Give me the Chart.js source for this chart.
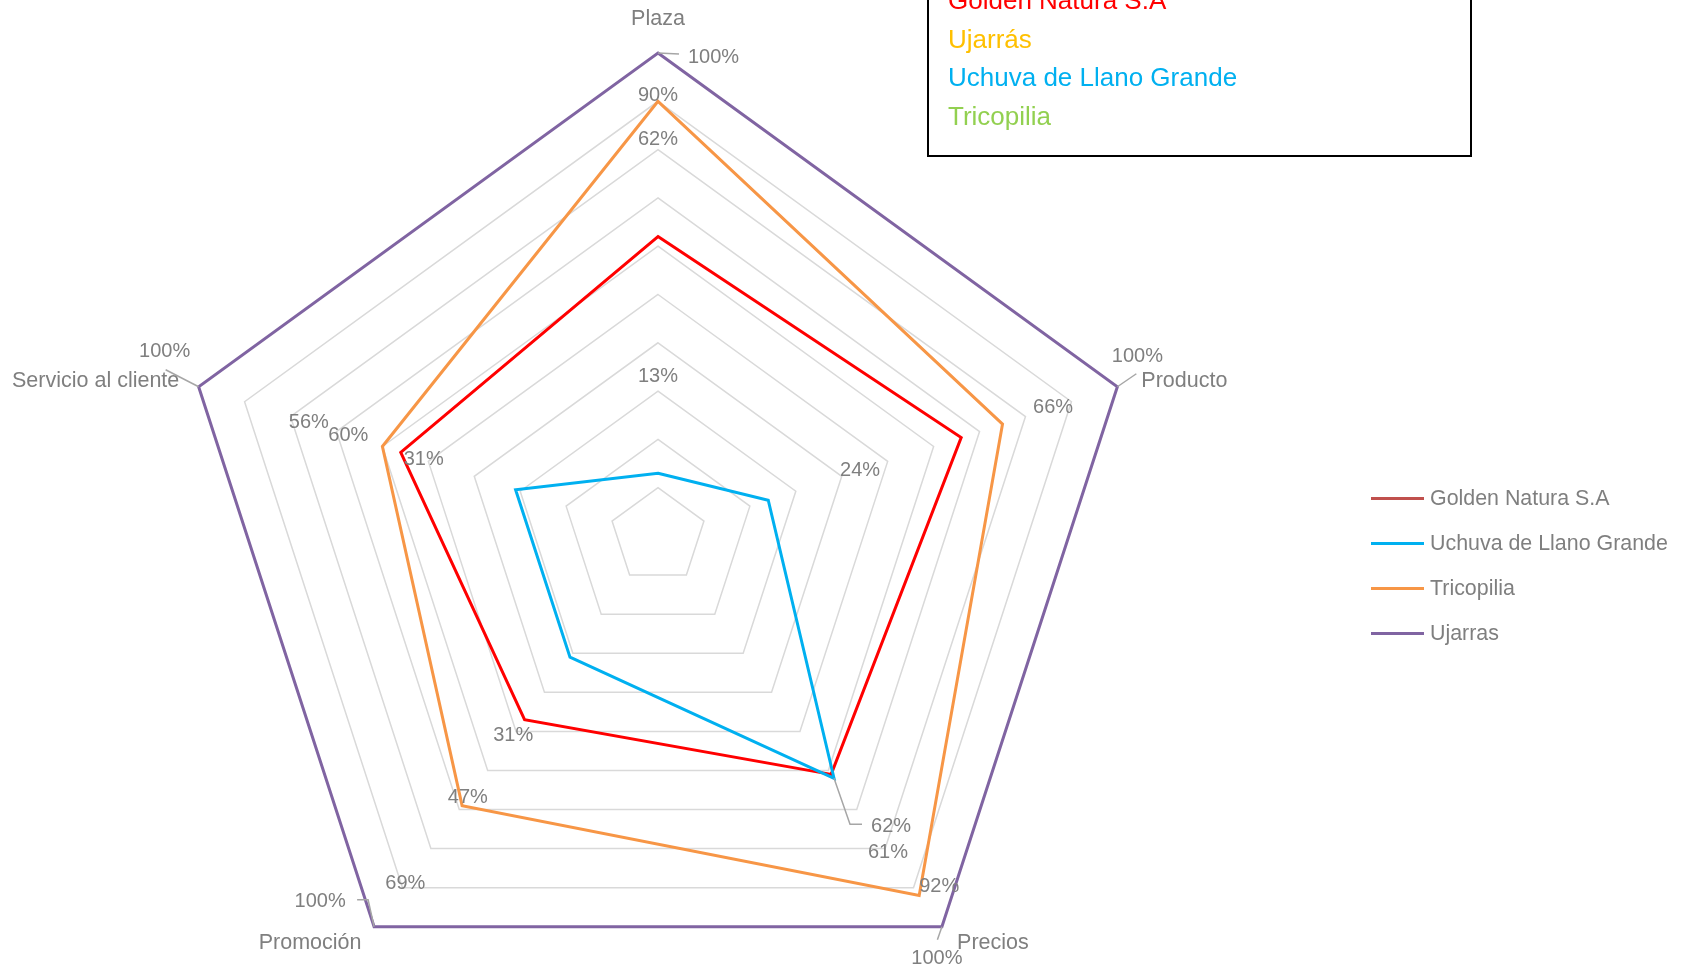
<!DOCTYPE html>
<html lang="es">
<head>
<meta charset="utf-8">
<title>Radar - comparación de empresas</title>
<script src="https://cdn.jsdelivr.net/npm/chart.js@4.4.1/dist/chart.umd.min.js"></script>
<style>
    html, body { margin: 0; padding: 0; background: #fff; overflow: hidden; }
    body { width: 1686px; height: 971px; position: relative; font-family: "Liberation Sans", Arial, sans-serif; }
    #wrap { position: absolute; left: 0; top: 0; width: 1686px; height: 1040px; }
    #box {
        position: absolute; left: 927px; top: -21px; width: 545px; height: 178px;
        box-sizing: border-box; border: 2px solid #000; padding-left: 19px;
        font-size: 26px; line-height: 38.7px; white-space: nowrap;
    }
    #legend { position: absolute; left: 1371px; top: 476px; font-size: 21.4px; color: #7F7F7F; }
    #legend .item { display: flex; align-items: center; height: 45px; white-space: nowrap; }
    #legend .swatch { width: 53px; height: 3px; margin-right: 6px; }
</style>
</head>
<body>
<div id="wrap"><canvas id="radarChart"></canvas></div>
<div id="box"></div>
<div id="legend"></div>

<script>
// ===== DATA =====
const axes = ['Plaza', 'Producto', 'Precios', 'Promoción', 'Servicio al cliente'];
const seriesNames = ['Golden Natura S.A', 'Uchuva de Llano Grande', 'Tricopilia', 'Ujarras'];
const goldenNatura = [0.62, 0.66, 0.61, 0.47, 0.56];
const uchuva = [0.13, 0.24, 0.62, 0.31, 0.31];
const tricopilia = [0.90, 0.75, 0.92, 0.69, 0.60];
const ujarras = [1.00, 1.00, 1.00, 1.00, 1.00];
const ringStep = 0.1;

// text box in the upper right corner
const boxNames = ['Golden Natura S.A', 'Ujarrás', 'Uchuva de Llano Grande', 'Tricopilia'];
const boxColors = ['#FF0000', '#FFC000', '#00B0F0', '#92D050'];

// ===== STYLE =====
const lineColors = ['#FF0000', '#00B0F0', '#F79646', '#8064A2'];
const legendColors = ['#C0504D', '#00B0F0', '#F79646', '#8064A2'];
const labelGray = '#7F7F7F';
const labelFont = '20px "Liberation Sans", Arial, sans-serif';
const axisFont = '21.5px "Liberation Sans", Arial, sans-serif';
const labelPush = 0.2; // default: label sits 0.2 further out on its axis

// hand-moved labels (pixel offsets from the data point), null = no label
const labelTweaks = {
    1: { 2: { dx: 37, dy: 48, align: 'left', leader: [[16, 46], [28, 46]] } },
    2: { 0: { dx: 0, dy: -6 }, 1: null, 2: { dx: 20, dy: -9 }, 4: { dx: -34, dy: -11 } },
    3: {
        0: { dx: 30, dy: 4, align: 'left', leader: [[21, 1]] },
        1: { dx: 20, dy: -30, leader: [[19, -13]] },
        2: { dx: -5, dy: 32, leader: [[-4.5, 13]] },
        3: { dx: -54, dy: -25, leader: [[-6, -27], [-17, -27]] },
        4: { dx: -34, dy: -35, leader: [[-33, -17]] }
    }
};
// axis name offsets from the outer vertex
const axisOffsets = [[0, -34], [67, -6], [51, 16], [-64, 16], [-103, -6]];

// ===== LABEL PLUGIN =====
const radarLabels = {
    id: 'radarLabels',
    afterDatasetsDraw(chart) {
        const scale = chart.scales.r;
        const ctx = chart.ctx;
        ctx.save();
        ctx.textBaseline = 'middle';
        ctx.fillStyle = labelGray;
        ctx.strokeStyle = '#A6A6A6';
        ctx.lineWidth = 1.5;

        ctx.font = labelFont;
        chart.data.datasets.forEach((ds, d) => {
            ds.data.forEach((v, i) => {
                const tweak = (labelTweaks[d] || {})[i];
                if (tweak === null) return;
                const text = Math.round(v * 100) + '%';
                const p = scale.getPointPositionForValue(i, v);
                let x, y, align = 'center';
                if (tweak) {
                    x = p.x + tweak.dx;
                    y = p.y + tweak.dy;
                    align = tweak.align || 'center';
                    if (tweak.leader) {
                        ctx.beginPath();
                        ctx.moveTo(p.x, p.y);
                        tweak.leader.forEach(pt => ctx.lineTo(p.x + pt[0], p.y + pt[1]));
                        ctx.stroke();
                    }
                } else {
                    const q = scale.getPointPositionForValue(i, v + labelPush);
                    x = q.x;
                    y = q.y;
                }
                ctx.textAlign = align;
                ctx.fillText(text, x, y);
            });
        });

        ctx.font = axisFont;
        ctx.textAlign = 'center';
        axes.forEach((name, i) => {
            const p = scale.getPointPositionForValue(i, scale.max);
            ctx.fillText(name, p.x + axisOffsets[i][0], p.y + axisOffsets[i][1]);
        });
        ctx.restore();
    }
};

// ===== CHART =====
const seriesData = [goldenNatura, uchuva, tricopilia, ujarras];

new Chart(document.getElementById('radarChart'), {
    type: 'radar',
    data: {
        labels: axes,
        datasets: seriesData.map((values, i) => ({
            label: seriesNames[i],
            data: values,
            borderColor: lineColors[i],
            backgroundColor: 'transparent',
            borderWidth: 3,
            borderJoinStyle: 'miter',
            fill: false,
            pointRadius: 0,
            pointHoverRadius: 0,
            order: seriesData.length - i
        }))
    },
    options: {
        responsive: true,
        maintainAspectRatio: false,
        animation: false,
        layout: { padding: { left: 175, top: 53, right: 544, bottom: 20 } },
        plugins: { legend: { display: false }, tooltip: { enabled: false } },
        scales: {
            r: {
                min: 0,
                max: 1,
                ticks: { display: false, stepSize: ringStep },
                grid: { color: '#D9D9D9', lineWidth: 1.5, circular: false },
                angleLines: { display: false },
                pointLabels: { display: false }
            }
        }
    },
    plugins: [radarLabels]
});

// ===== TEXT BOX AND LEGEND =====
const box = document.getElementById('box');
boxNames.forEach((name, i) => {
    const div = document.createElement('div');
    div.textContent = name;
    div.style.color = boxColors[i];
    box.appendChild(div);
});

const legend = document.getElementById('legend');
seriesNames.forEach((name, i) => {
    legend.innerHTML += `<div class="item"><span class="swatch" style="background:${legendColors[i]}"></span><span>${name}</span></div>`;
});
</script>
</body>
</html>
